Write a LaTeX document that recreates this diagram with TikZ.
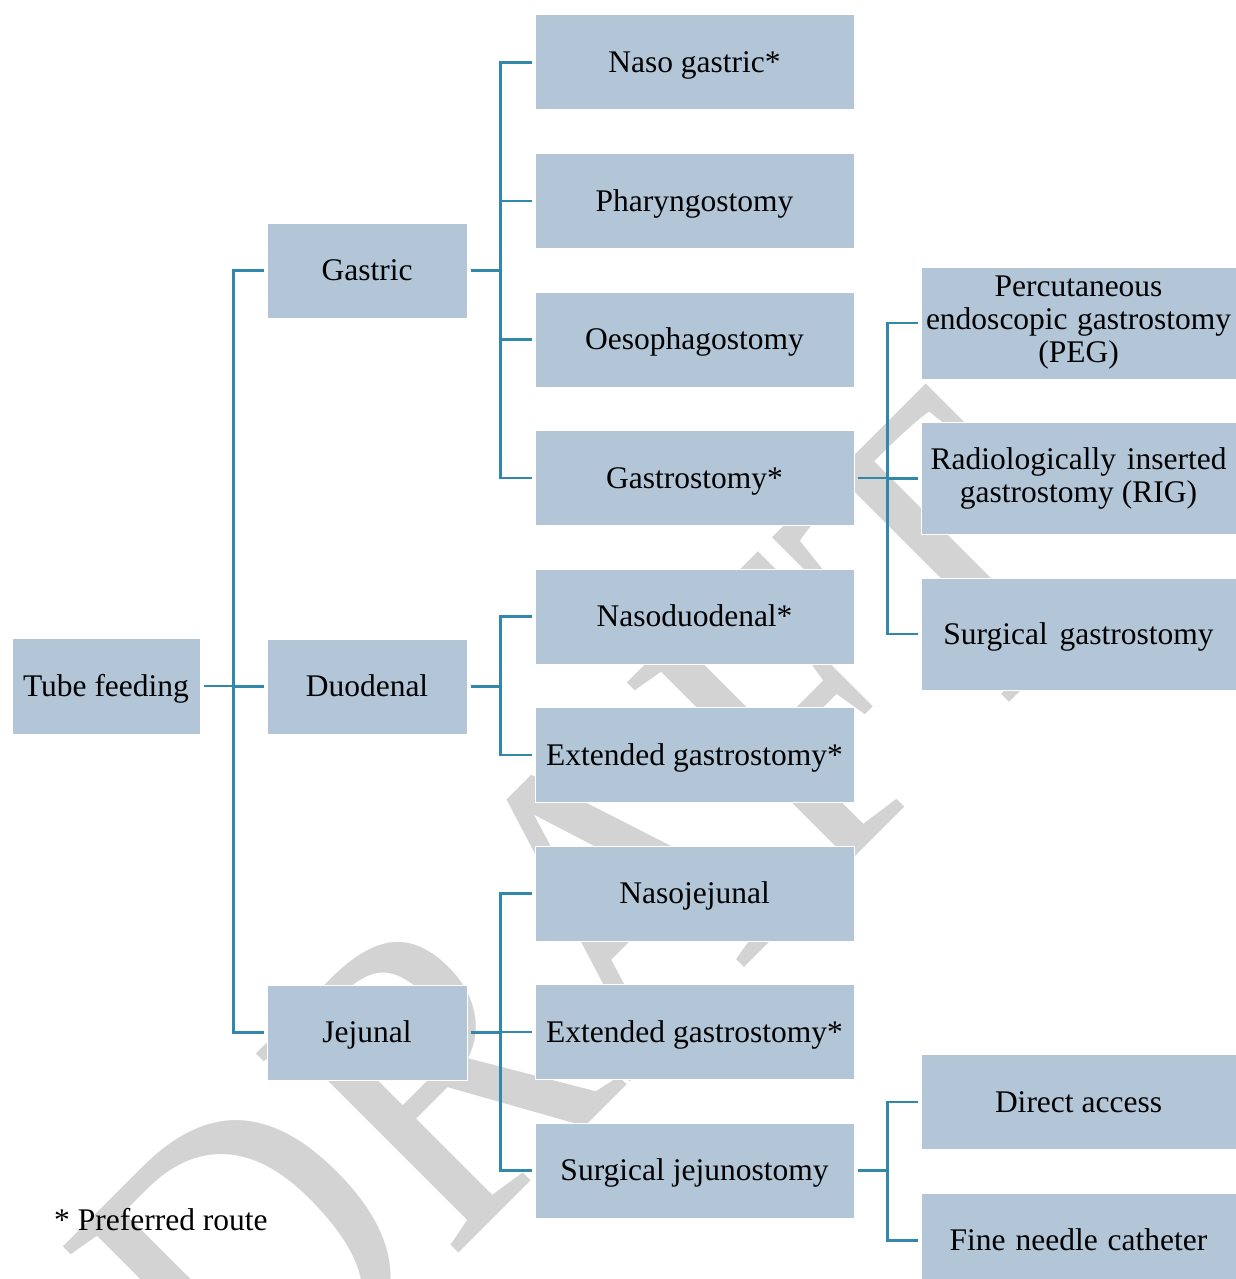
\documentclass[tikz,border=0pt]{standalone}
\usepackage{fontspec}
\setmainfont{Liberation Serif}
\definecolor{boxfill}{HTML}{B2C6D8}
\definecolor{linkblue}{HTML}{3288AA}
\definecolor{markgray}{HTML}{D3D3D3}
\tikzset{
  x=1pt, y=-1pt,
  box/.style={fill=boxfill, draw=white, line width=1pt, inner sep=0pt,
    align=center, font=\fontsize{31.5}{33}\selectfont, text=black},
  oneline/.style={text height=22pt, text depth=2pt},
  rootbox/.style={box, oneline, minimum width=188pt, minimum height=96pt},
  midbox/.style={box, oneline, minimum width=200pt, minimum height=95pt},
  leafbox/.style={box, oneline, minimum width=319pt, minimum height=95pt},
  subbox/.style={box, minimum width=315pt, minimum height=112pt},
  lowbox/.style={box, oneline, minimum width=315pt, minimum height=95pt},
  conn/.style={draw=linkblue, line width=2.5pt},
}
\begin{document}
\begin{tikzpicture}
\clip (0,0) rectangle (1236,1279);
\fill[white] (0,0) rectangle (1236,1279);

% watermark behind the chart
\node[text=markgray, rotate=45, inner sep=0pt,
      font=\fontsize{434}{434}\selectfont] (mark) at (593.5,916.5)
      {\scalebox{0.87}[1]{DRAFT}};

% root and first level
\node[rootbox] (tube) at (106,686) {Tube feeding};
\node[midbox] (gastric) at (367,270.5) {Gastric};
\node[midbox] (duod) at (367,686.5) {Duodenal};
\node[midbox] (jej) at (367,1032.5) {Jejunal};

% second level
\node[leafbox] (ng)   at (694.5,62.5)  {Naso gastric*};
\node[leafbox] (phar) at (694.5,201)   {Pharyngostomy};
\node[leafbox] (oes)  at (694.5,339.5) {Oesophagostomy};
\node[leafbox] (gast) at (694.5,478)   {Gastrostomy*};
\node[leafbox] (nd)   at (694.5,616.5) {Nasoduodenal*};
\node[leafbox] (eg1)  at (694.5,755)   {Extended gastrostomy*};
\node[leafbox] (nj)   at (694.5,893.5) {Nasojejunal};
\node[leafbox] (eg2)  at (694.5,1032)  {Extended gastrostomy*};
\node[leafbox] (sj)   at (694.5,1170.5){Surgical jejunostomy};

% third level
\node[subbox] (peg) at (1078.5,323)
  {Percutaneous\\\makebox[305pt][s]{endoscopic gastrostomy}\\(PEG)};
\node[subbox] (rig) at (1078.5,478.5)
  {\makebox[296pt][s]{Radiologically inserted}\\gastrostomy (RIG)};
\node[subbox, oneline] (sg)  at (1078.5,634)   {Surgical\hspace{4pt} gastrostomy};
\node[lowbox] (da)  at (1078.5,1102)  {Direct access};
\node[lowbox] (fn)  at (1078.5,1240.5){Fine\hspace{2pt} needle\hspace{2pt} catheter};

% elbow connectors: parent stub, shared bus, child stub
\foreach \p/\c in {tube/gastric, tube/duod, tube/jej,
                   gastric/ng, gastric/phar, gastric/oes, gastric/gast,
                   duod/nd, duod/eg1,
                   jej/nj, jej/eg2, jej/sj,
                   gast/peg, gast/rig, gast/sg,
                   sj/da, sj/fn}
  \draw[conn] ([xshift=3pt]\p.east) -- ([xshift=33pt]\p.east)
              |- ([xshift=-3pt]\c.west);

% footnote
\node[anchor=base west, inner sep=0pt, font=\fontsize{31.5}{33}\selectfont]
  (note) at (54,1230) {* Preferred route};
\end{tikzpicture}
\end{document}
